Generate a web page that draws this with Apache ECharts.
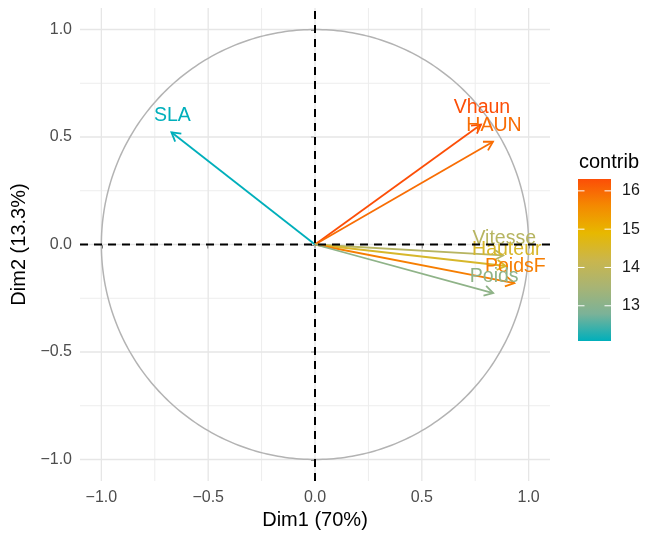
<!DOCTYPE html>
<html><head><meta charset="utf-8">
<script src="https://cdn.jsdelivr.net/npm/echarts@6/dist/echarts.min.js"></script>
<style>html,body{margin:0;padding:0;background:#fff}#c{width:646px;height:536px}</style>
</head><body><div id="c"></div>
<script>
// ---- data ----
const varNames = ['SLA', 'Vhaun', 'HAUN', 'Vitesse', 'Hauteur', 'PoidsF', 'Poids'];
const dim1 = [-0.672, 0.777, 0.833, 0.881, 0.893, 0.933, 0.834];
const dim2 = [0.522, 0.558, 0.478, -0.051, -0.100, -0.180, -0.226];
const contrib = [12.08, 16.31, 15.95, 13.8, 14.5, 15.75, 13.1];
const axisBreaks = [-1, -0.5, 0, 0.5, 1];
const minorBreaks = [-0.75, -0.25, 0.25, 0.75];
const axisLimits = [-1.1, 1.1];
const contribRange = [12.08, 16.31];
const legendBreaks = [13, 14, 15, 16];
// teal -> yellow -> orange palette, with Lab-interpolated intermediate stops
const gradientColors = ['#00AFBB', '#7BB298', '#A8B474', '#CAB64C', '#E7B800', '#F48A01', '#FC4E07'];
const FONT = '"Liberation Sans", Arial, sans-serif';

const chart = echarts.init(document.getElementById('c'), null, {renderer: 'canvas'});
const fmt = v => (Math.abs(v) < 1e-9 ? 0 : v).toFixed(1).replace('-', '\u2212');

function gridLines(width, color) {
  return function (params, api) {
    const v = api.value(0);
    const a = api.coord([v, axisLimits[0]]), b = api.coord([v, axisLimits[1]]);
    const c = api.coord([axisLimits[0], v]), d = api.coord([axisLimits[1], v]);
    return {type: 'group', children: [
      {type: 'line', shape: {x1: a[0], y1: a[1], x2: b[0], y2: b[1]}, style: {stroke: color, lineWidth: width}},
      {type: 'line', shape: {x1: c[0], y1: c[1], x2: d[0], y2: d[1]}, style: {stroke: color, lineWidth: width}}
    ]};
  };
}

const arrowData = varNames.map((n, i) => [dim1[i], dim2[i], contrib[i]]);

const option = {
  animation: false,
  backgroundColor: '#fff',
  textStyle: {fontFamily: FONT},
  grid: [
    {left: 80, right: 96, top: 8, bottom: 55},
    {left: 578, top: 179, width: 33, height: 162}
  ],
  graphic: [
    {type: 'text', left: 579, top: 152, style: {text: 'contrib', fontSize: 20, fontFamily: FONT, fill: '#000'}}
  ],
  xAxis: [
    {gridIndex: 0, type: 'value', min: axisLimits[0], max: axisLimits[1],
     axisLine: {show: false},
     axisTick: {show: true, customValues: axisBreaks, length: 4, lineStyle: {color: '#333', width: 1.5}},
     axisLabel: {customValues: axisBreaks, formatter: fmt, color: '#4D4D4D', fontSize: 16, margin: 9, fontFamily: FONT},
     splitLine: {show: false},
     name: 'Dim1 (70%)', nameLocation: 'middle', nameGap: 29,
     nameTextStyle: {fontSize: 20, color: '#000', fontFamily: FONT}},
    {gridIndex: 1, type: 'value', min: 0, max: 1, show: false}
  ],
  yAxis: [
    {gridIndex: 0, type: 'value', min: axisLimits[0], max: axisLimits[1],
     axisLine: {show: false},
     axisTick: {show: true, customValues: axisBreaks, length: 4, lineStyle: {color: '#333', width: 1.5}},
     axisLabel: {customValues: axisBreaks, formatter: fmt, color: '#4D4D4D', fontSize: 16, margin: 8, fontFamily: FONT},
     splitLine: {show: false},
     name: 'Dim2 (13.3%)', nameLocation: 'middle', nameGap: 38,
     nameTextStyle: {fontSize: 20, color: '#000', fontFamily: FONT}},
    {gridIndex: 1, type: 'value', min: contribRange[0], max: contribRange[1], position: 'right',
     axisLine: {show: false}, axisTick: {show: false}, splitLine: {show: false},
     axisLabel: {customValues: legendBreaks, color: '#1A1A1A', fontSize: 16, margin: 11, fontFamily: FONT}}
  ],
  visualMap: {
    type: 'continuous', show: false, min: contribRange[0], max: contribRange[1],
    dimension: 2, seriesIndex: [3, 4], inRange: {color: gradientColors}
  },
  series: [
    // 0 minor grid
    {type: 'custom', xAxisIndex: 0, yAxisIndex: 0, z: 1, silent: true, clip: false,
     data: minorBreaks.map(v => [v, v]), renderItem: gridLines(1, '#EDEDED')},
    // 1 major grid
    {type: 'custom', xAxisIndex: 0, yAxisIndex: 0, z: 2, silent: true, clip: false,
     data: axisBreaks.map(v => [v, v]), renderItem: gridLines(1.3, '#E6E6E6')},
    // 2 correlation circle
    {type: 'custom', xAxisIndex: 0, yAxisIndex: 0, z: 3, silent: true, clip: false,
     data: [[0, 0]],
     renderItem: function (params, api) {
       const pts = [];
       for (let k = 0; k <= 360; k++) {
         const t = k * Math.PI / 180;
         pts.push(api.coord([Math.cos(t), Math.sin(t)]));
       }
       return {type: 'polyline', shape: {points: pts}, style: {stroke: '#B3B3B3', lineWidth: 1.5, fill: null}};
     }},
    // 3 arrows
    {type: 'custom', xAxisIndex: 0, yAxisIndex: 0, z: 4, silent: true, clip: false,
     data: arrowData, encode: {x: 0, y: 1},
     renderItem: function (params, api) {
       const color = api.visual('color');
       const p0 = api.coord([0, 0]);
       const p1 = api.coord([api.value(0), api.value(1)]);
       const ang = Math.atan2(p1[1] - p0[1], p1[0] - p0[0]);
       const L = 10, A = Math.PI / 6;
       const w1 = [p1[0] - L * Math.cos(ang - A), p1[1] - L * Math.sin(ang - A)];
       const w2 = [p1[0] - L * Math.cos(ang + A), p1[1] - L * Math.sin(ang + A)];
       return {type: 'group', children: [
         {type: 'line', shape: {x1: p0[0], y1: p0[1], x2: p1[0], y2: p1[1]}, style: {stroke: color, lineWidth: 1.8}},
         {type: 'polyline', shape: {points: [w1, p1, w2]}, style: {stroke: color, lineWidth: 1.8, fill: null}}
       ]};
     }},
    // 4 labels
    {type: 'custom', xAxisIndex: 0, yAxisIndex: 0, z: 5, silent: true, clip: false,
     data: arrowData, encode: {x: 0, y: 1},
     renderItem: function (params, api) {
       const color = api.visual('color');
       const p1 = api.coord([api.value(0), api.value(1)]);
       return {type: 'text', x: p1[0] + 1, y: p1[1] - 16.5,
         style: {text: varNames[params.dataIndex], fill: color, fontSize: 19.5, fontFamily: FONT,
                 align: 'center', verticalAlign: 'middle'}};
     }},
    // 5 dashed axes lines
    {type: 'custom', xAxisIndex: 0, yAxisIndex: 0, z: 6, silent: true, clip: false,
     data: [[0, 0]],
     renderItem: function (params, api) {
       const a = api.coord([0, axisLimits[0]]), b = api.coord([0, axisLimits[1]]);
       const c = api.coord([axisLimits[0], 0]), d = api.coord([axisLimits[1], 0]);
       const st = {stroke: '#000', lineWidth: 2, lineDash: [8, 6]};
       return {type: 'group', children: [
         {type: 'line', shape: {x1: a[0], y1: a[1], x2: b[0], y2: b[1]}, style: st},
         {type: 'line', shape: {x1: c[0], y1: c[1], x2: d[0], y2: d[1]}, style: st}
       ]};
     }},
    // 6 colour bar legend
    {type: 'custom', xAxisIndex: 1, yAxisIndex: 1, z: 2, silent: true, clip: false,
     data: [[0, contribRange[0]]],
     renderItem: function (params, api) {
       const tl = api.coord([0, contribRange[1]]);
       const br = api.coord([1, contribRange[0]]);
       const stops = gradientColors.map((c, i) => ({offset: i / (gradientColors.length - 1), color: c}));
       const children = [{type: 'rect', shape: {x: tl[0], y: tl[1], width: br[0] - tl[0], height: br[1] - tl[1]},
         style: {fill: {type: 'linear', x: 0, y: 1, x2: 0, y2: 0, colorStops: stops}}}];
       legendBreaks.forEach(v => {
         const y = api.coord([0, v])[1];
         children.push({type: 'line', shape: {x1: tl[0], y1: y, x2: tl[0] + 6.5, y2: y}, style: {stroke: '#fff', lineWidth: 1}});
         children.push({type: 'line', shape: {x1: br[0] - 6.5, y1: y, x2: br[0], y2: y}, style: {stroke: '#fff', lineWidth: 1}});
       });
       return {type: 'group', children: children};
     }}
  ]
};
chart.setOption(option);
</script>
</body></html>
